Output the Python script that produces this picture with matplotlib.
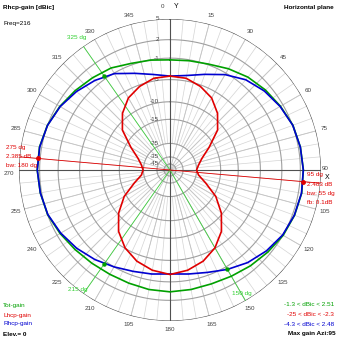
import numpy as np
import matplotlib.pyplot as plt

plt.rcParams['font.family'] = ['Liberation Sans', 'DejaVu Sans']

# horizontal-plane pattern, sampled every 10 degrees of azimuth (dBic)
azimuth = np.arange(0, 360, 10)
tot_gain = [-1.3, -1.16, -0.86, -0.15, 0.56, 1.09, 1.56, 2.07, 2.31, 2.46,
            2.51, 2.33, 2.05, 1.59, 1.18, 0.79, 0.55, 0.58, 0.66, 0.58,
            0.43, 0.43, 0.63, 0.98, 1.47, 1.98, 2.21, 2.37, 2.33, 2.02,
            1.51, 0.95, 0.43, 0.0, -0.73, -1.05]
lhcp_gain = [-4.3, -4.45, -5.3, -6.5, -8.6, -11.6, -16.9, -21.3, -23.7, -25.0,
             -23.7, -19.6, -14.3, -10.3, -7.2, -5.1, -3.7, -2.8, -2.3, -2.8,
             -3.7, -5.1, -7.2, -10.3, -14.3, -19.6, -23.7, -24.8, -23.7, -21.3,
             -16.9, -11.6, -8.6, -6.5, -5.3, -4.45]
rhcp_gain = [-4.3, -3.9, -2.8, -1.3, 0.0, 0.85, 1.5, 2.05, 2.3, 2.45,
             2.48, 2.3, 1.95, 1.3, 0.5, -0.5, -1.5, -2.1, -2.4, -2.1,
             -1.7, -1.0, -0.15, 0.65, 1.35, 1.95, 2.2, 2.36, 2.3, 2.0,
             1.45, 0.7, -0.15, -1.1, -2.6, -3.7]

# main lobe markers
peak_azi = [275, 95]
peak_gain = [2.385, 2.483]
# beamwidth rays and where they cross the rhcp curve
bw_azi = [325, 215, 150]
bw_gain = [-0.5, -0.6, -0.5]

ring_db = [5, 2, -1, -5, -10, -15, -25, -35, -45]
angle_ticks = np.arange(0, 360, 15)
fine_ticks = np.arange(0, 360, 5)

GREEN = '#00a000'
RED = '#e00000'
BLUE = '#0000d0'


def rscale(db):
    # log-type radial scale, 5 dBic on the outer ring
    x = 5 - np.asarray(db, dtype=float)
    return np.exp(-0.048 * x - 0.00033 * x ** 2)


def closed(vals):
    th = np.radians(np.r_[azimuth, 360])
    return th, rscale(np.r_[vals, vals[0]])


fig = plt.figure(figsize=(3.39, 3.39), dpi=100)
ax = fig.add_axes([19 / 339, 18 / 339, 302 / 339, 302 / 339], projection='polar')
ax.set_theta_zero_location('N')
ax.set_theta_direction(-1)
ax.set_ylim(0, 1)
ax.set_xticks([])
ax.set_yticks([])
ax.grid(False)
ax.spines['polar'].set_visible(False)

full = np.linspace(0, 2 * np.pi, 361)

# spokes: every 5 deg in the outer band, every 15 deg down to the centre
for a in fine_ticks:
    ax.plot([np.radians(a)] * 2, [rscale(-25), 1], color='#d4d4d4', lw=0.5, zorder=1)
for a in angle_ticks:
    ax.plot([np.radians(a)] * 2, [0, 1], color='#c4c4c4', lw=0.6, zorder=1)
# rings
for d in ring_db:
    c = '#505050' if d == ring_db[0] else '#a0a0a0'
    ax.plot(full, np.full_like(full, rscale(d)), color=c, lw=0.8, zorder=2)
    ax.annotate(str(d), xy=(0, rscale(d)), xytext=(-8, 0), textcoords='offset points',
                ha='right', va='center', fontsize=4.5, color='#404040')
# main axes
for a in (0, 90):
    ax.plot([np.radians(a), np.radians(a + 180)], [1, 1], color='#505050', lw=0.8, zorder=3)

# angle labels
for a in angle_ticks:
    if a in (0, 90, 270):
        continue
    ax.text(np.radians(a), 1.058, str(a), ha='center', va='center', fontsize=4.5, color='#404040')
ax.text(np.radians(-2.6), 1.085, '0', ha='center', va='center', fontsize=4.5, color='#404040')
ax.text(np.radians(2.3), 1.085, 'Y', ha='center', va='center', fontsize=5, color='black')
ax.text(np.radians(89.6), 1.03, '90', ha='center', va='center', fontsize=4.5, color='#404040')
ax.text(np.radians(92.7), 1.04, 'X', ha='center', va='center', fontsize=5, color='black')
ax.text(np.radians(268.6), 1.065, '270', ha='center', va='center', fontsize=4.5, color='#404040')

# beamwidth rays
for a, g in zip(bw_azi, bw_gain):
    ax.plot([np.radians(a)] * 2, [0, 1], color='#40d040', lw=0.6, zorder=4)
    ax.plot(np.radians(a), rscale(g), 'o', color=GREEN, ms=2.2, zorder=8)
# direction of maximum
for a, g in zip(peak_azi, peak_gain):
    ax.plot([np.radians(a)] * 2, [0, 1], color=RED, lw=0.6, zorder=4)
    ax.plot(np.radians(a), rscale(g), 'o', color=RED, ms=2.5, zorder=9)

# pattern curves
ax.plot(*closed(tot_gain), color=GREEN, lw=1.2, zorder=6)
ax.plot(*closed(rhcp_gain), color=BLUE, lw=1.2, zorder=7)
ax.plot(*closed(lhcp_gain), color=RED, lw=1.2, zorder=7)


def ftext(px, py, s, **kw):
    kw.setdefault('fontsize', 4.6)
    kw.setdefault('va', 'center')
    fig.text(px / 339, 1 - py / 339, s, **kw)


ftext(3, 8, 'Rhcp-gain [dBic]', fontweight='bold')
ftext(3, 24, 'Freq=216')
ftext(334, 8, 'Horizontal plane', fontweight='bold', ha='right')

ftext(3, 305, 'Tot-gain', color=GREEN)
ftext(3, 315, 'Lhcp-gain', color=RED)
ftext(3, 324, 'Rhcp-gain', color=BLUE)
ftext(3, 334, 'Elev.= 0', fontweight='bold')
ftext(334, 305, '-1.3 < dBic < 2.51', color=GREEN, ha='right')
ftext(334, 315, '-25 < dBic < -2.3', color=RED, ha='right')
ftext(334, 324, '-4.3 < dBic < 2.48', color=BLUE, ha='right')
ftext(336, 334, 'Max gain Azi:95', fontweight='bold', ha='right')

ftext(6, 148, '275 dg', color=RED)
ftext(6, 157, '2.385 dB', color=RED)
ftext(6, 166, 'bw: 180 dg', color=RED)
ftext(307, 175, '95 dg', color=RED)
ftext(307, 184, '2.483 dB', color=RED)
ftext(307, 193, 'bw: 55 dg', color=RED)
ftext(307, 202, 'fb: 0.1dB', color=RED)

ftext(77, 38, '325 dg', color='#30d030', ha='center')
ftext(78, 290, '215 dg', color='#30d030', ha='center')
ftext(242, 293, '150 dg', color='#30d030', ha='center')

fig.savefig('out.png', dpi=100)
